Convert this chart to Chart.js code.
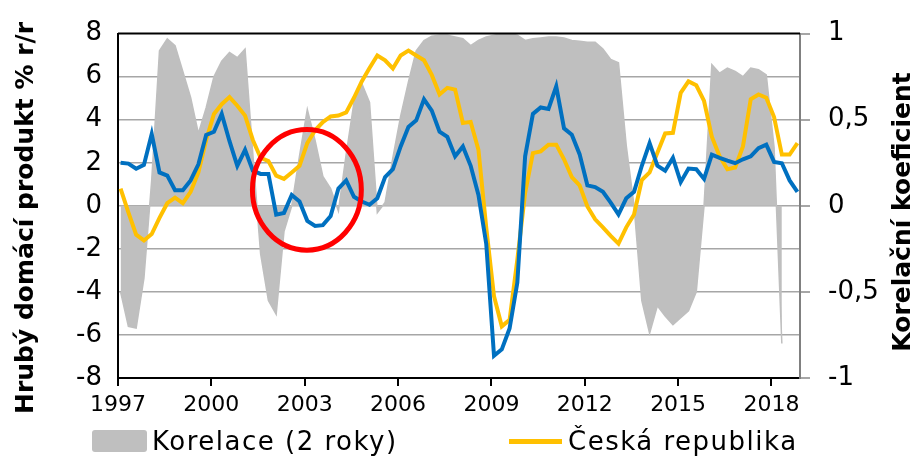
<!DOCTYPE html>
<html>
<head>
<meta charset="utf-8">
<script src="https://cdn.jsdelivr.net/npm/chart.js@4.4.1/dist/chart.umd.min.js"></script>
<style>
  html, body { margin: 0; padding: 0; background: #fff; }
  #wrap { position: relative; width: 915px; height: 460px; }
  .leg { position: absolute; font-family: "DejaVu Sans", sans-serif; font-size: 26px; letter-spacing: 1.5px; color: #000; line-height: 30px; height: 30px; white-space: nowrap; }
  .leg-box { position: absolute; left: 92px; top: 430px; width: 55px; height: 22px; background: #BFBFBF; border-radius: 3px; }
  .leg-line { position: absolute; left: 509px; top: 439px; width: 53px; height: 5px; background: #FFC000; }
</style>
</head>
<body>
<div id="wrap">
  <canvas id="chart" width="915" height="460"></canvas>
  <div class="leg-box"></div>
  <div class="leg" style="left:152px; top:426px">Korelace (2 roky)</div>
  <div class="leg-line"></div>
  <div class="leg" style="left:568px; top:426px">Česká republika</div>
</div>
<script>
// quarterly data, 1997Q1 .. 2018Q4
const startYear = 1997;

// GDP growth y/y, Czech Republic (%)
const ceskaRepublika = [
  0.8, -0.3, -1.34, -1.61, -1.31, -0.56, 0.12, 0.38, 0.12, 0.65, 1.55, 3.06,
  4.27, 4.72, 5.05, 4.65, 4.19, 3.06, 2.23, 2.08, 1.4, 1.25, 1.55, 1.86,
  2.91, 3.51, 3.89, 4.15, 4.19, 4.34, 5.02, 5.78, 6.4, 6.98, 6.76, 6.38,
  6.98, 7.21, 6.98, 6.76, 6.08, 5.17, 5.48, 5.4, 3.85, 3.9, 2.6, -1.0,
  -4.2, -5.6, -5.3, -2.5, 0.6, 2.45, 2.53, 2.84, 2.84, 2.16, 1.33, 0.95,
  -0.03, -0.63, -1.0, -1.4, -1.76, -1.0, -0.4, 1.2, 1.55, 2.46, 3.36, 3.39,
  5.25, 5.78, 5.6, 4.87, 3.21, 2.3, 1.7, 1.78, 2.76, 4.95, 5.17, 5.02,
  4.12, 2.38, 2.38, 2.91
];

// GDP growth y/y, euro area (%)
const eurozona = [
  2.0, 1.96, 1.72, 1.9, 3.33, 1.55, 1.4, 0.72, 0.72, 1.18, 1.93, 3.29,
  3.44, 4.27, 3.0, 1.86, 2.6, 1.63, 1.48, 1.48, -0.41, -0.33, 0.5, 0.2,
  -0.7, -0.94, -0.9, -0.48, 0.8, 1.18, 0.42, 0.2, 0.05, 0.35, 1.33, 1.7,
  2.76, 3.66, 3.97, 4.95, 4.42, 3.44, 3.2, 2.3, 2.76, 1.86, 0.5, -1.76,
  -6.97, -6.67, -5.7, -3.57, 2.3, 4.27, 4.57, 4.5, 5.55, 3.6, 3.3, 2.4,
  0.95, 0.87, 0.65, 0.15, -0.4, 0.35, 0.65, 1.86, 2.91, 1.86, 1.63, 2.23,
  1.1, 1.73, 1.7, 1.25, 2.38, 2.23, 2.1, 1.98, 2.16, 2.3, 2.68, 2.84,
  2.04, 1.98, 1.18, 0.65
];

// rolling 2-year correlation
const korelace = [
  -0.5, -0.7, -0.71, -0.42, 0.15, 0.9, 0.97, 0.93, 0.78, 0.63, 0.42, 0.57,
  0.75, 0.84, 0.89, 0.86, 0.91, 0.3, -0.28, -0.55, -0.63, -0.15, 0.0, 0.29,
  0.56, 0.38, 0.17, 0.1, -0.03, 0.3, 0.6, 0.71, 0.6, -0.04, 0.02, 0.28,
  0.52, 0.72, 0.9, 0.96, 0.985, 0.99, 0.99, 0.98, 0.97, 0.93, 0.96, 0.98,
  0.99, 1.0, 1.0, 0.99, 0.96, 0.97, 0.975, 0.98, 0.98, 0.975, 0.96, 0.955,
  0.95, 0.95, 0.91, 0.85, 0.83, 0.35, 0.0, -0.55, -0.74, -0.58, -0.64, -0.69,
  -0.65, -0.61, -0.5, 0.0, 0.82, 0.77, 0.8, 0.78, 0.75, 0.8, 0.79, 0.76,
  0.34, -0.8, null, null
];

const yearTicks = [1997, 2000, 2003, 2006, 2009, 2012, 2015, 2018];
const leftTitle = 'Hrubý domácí produkt % r/r';
const rightTitle = 'Korelační koeficient';

// red circle around 2002-2004
const highlight = { year: 2003.07, value: 0.74, yearRadius: 1.75, valueRadius: 2.8 };

// x position of quarter i (middle month of the quarter)
function quarterX(i){
  return startYear + (3 * i + 1) / 12;
}

function toPoints(list){
  return list.map((v, i) => ({ x: quarterX(i), y: v }));
}

const overlay = {
  id: 'overlay',
  afterDatasetsDraw(chart){
    const { ctx, chartArea, scales } = chart;
    ctx.save();
    // top frame line
    ctx.strokeStyle = '#000';
    ctx.lineWidth = 2;
    ctx.beginPath();
    ctx.moveTo(chartArea.left, chartArea.top);
    ctx.lineTo(chartArea.right, chartArea.top);
    ctx.stroke();
    // ellipse
    const cx = scales.x.getPixelForValue(highlight.year);
    const cy = scales.y.getPixelForValue(highlight.value);
    const rx = Math.abs(scales.x.getPixelForValue(highlight.year + highlight.yearRadius) - cx);
    const ry = Math.abs(scales.y.getPixelForValue(highlight.value + highlight.valueRadius) - cy);
    ctx.strokeStyle = '#FF0000';
    ctx.lineWidth = 5;
    ctx.beginPath();
    ctx.ellipse(cx, cy, rx, ry, 0, 0, Math.PI * 2);
    ctx.stroke();
    ctx.restore();
  },
  afterDraw(chart){
    const ctx = chart.ctx;
    ctx.save();
    ctx.fillStyle = '#000';
    ctx.font = 'bold 25px "DejaVu Sans"';
    ctx.textAlign = 'center';
    ctx.textBaseline = 'alphabetic';
    [[33, 218, leftTitle], [910, 212, rightTitle]].forEach(([x, y, t]) => {
      ctx.save();
      ctx.translate(x, y);
      ctx.rotate(-Math.PI / 2);
      ctx.fillText(t, 0, 0);
      ctx.restore();
    });
    ctx.restore();
  }
};

const tickFont = { family: 'DejaVu Sans', size: 26 };

new Chart(document.getElementById('chart').getContext('2d'), {
  type: 'line',
  data: {
    datasets: [
      {
        label: 'Korelace (2 roky)',
        data: toPoints(korelace),
        yAxisID: 'y1',
        order: 3,
        fill: 'origin',
        backgroundColor: '#BFBFBF',
        borderColor: '#BFBFBF',
        borderWidth: 1.5,
        pointRadius: 0,
        tension: 0
      },
      {
        label: 'Česká republika',
        data: toPoints(ceskaRepublika),
        yAxisID: 'y',
        order: 2,
        borderColor: '#FFC000',
        borderWidth: 4,
        pointRadius: 0,
        tension: 0,
        fill: false
      },
      {
        label: 'Eurozóna',
        data: toPoints(eurozona),
        yAxisID: 'y',
        order: 1,
        borderColor: '#0070C0',
        borderWidth: 4,
        pointRadius: 0,
        tension: 0,
        fill: false
      }
    ]
  },
  options: {
    responsive: false,
    animation: false,
    layout: { padding: { top: 24, bottom: 39, left: 0, right: 0 } },
    plugins: {
      legend: { display: false },
      tooltip: { enabled: false }
    },
    scales: {
      x: {
        type: 'linear',
        min: startYear,
        max: quarterX(korelace.length - 1) + 1 / 12,
        afterBuildTicks: s => { s.ticks = yearTicks.map(v => ({ value: v })); },
        afterFit: s => { s.height = 43; },
        ticks: {
          autoSkip: false, maxRotation: 0, color: '#000',
          font: { family: 'DejaVu Sans', size: 22 }, padding: 6,
          callback: v => String(v)
        },
        grid: { drawOnChartArea: false, drawTicks: true, tickLength: 8, color: '#000', lineWidth: 2 },
        border: { color: '#000', width: 2 }
      },
      y: {
        position: 'left',
        min: -8, max: 8,
        afterFit: s => { s.width = 118; },
        ticks: { stepSize: 2, color: '#000', font: tickFont, padding: 16 },
        grid: {
          drawTicks: false,
          lineWidth: 1.5,
          color: c => (c.tick && c.tick.value === 8) ? 'rgba(0,0,0,0)' : '#A6A6A6'
        },
        border: { color: '#000', width: 2 }
      },
      y1: {
        position: 'right',
        min: -1, max: 1,
        afterFit: s => { s.width = 115; },
        ticks: {
          stepSize: 0.5, color: '#000', font: tickFont, padding: 18,
          callback: v => String(v).replace('.', ',')
        },
        grid: { drawOnChartArea: false, drawTicks: true, tickLength: 10, color: '#A6A6A6', lineWidth: 2 },
        border: { color: '#808080', width: 2 }
      }
    }
  },
  plugins: [overlay]
});
</script>
</body>
</html>
